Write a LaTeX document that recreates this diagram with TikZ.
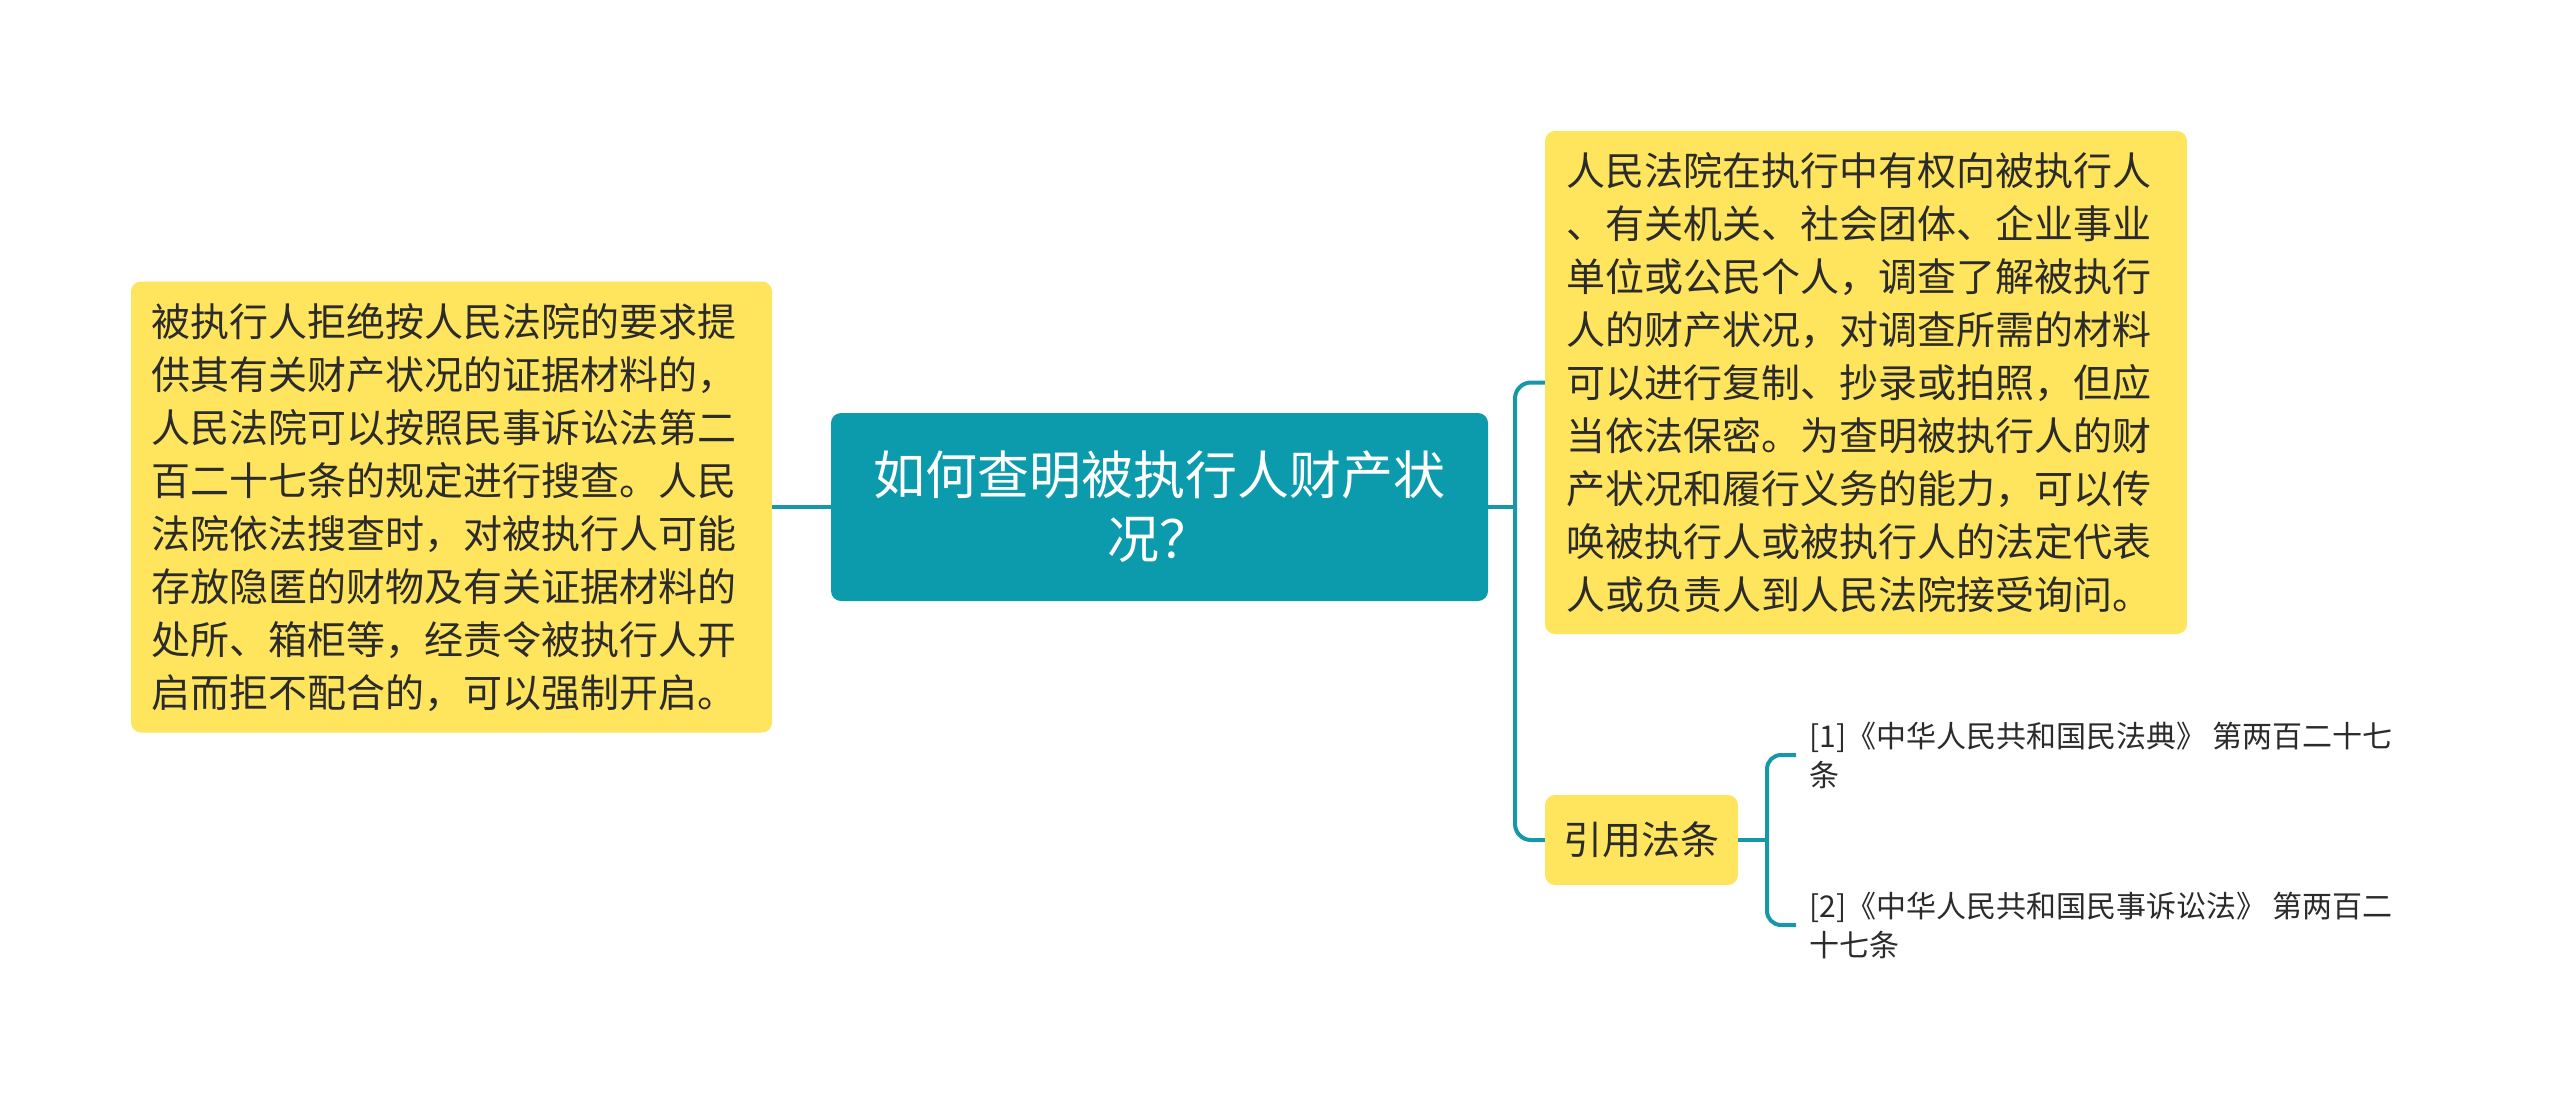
\documentclass[tikz,border=0pt]{standalone}
\usepackage{fontspec}
\setmainfont{Noto Sans CJK SC}
\definecolor{boxyellow}{HTML}{FFE45E}
\definecolor{teal}{HTML}{0C9AAD}
\definecolor{conncol}{HTML}{1798A8}
\definecolor{txt}{HTML}{2B2B2B}
\begin{document}
\begin{tikzpicture}[x=1pt,y=-1pt,
  ybox/.style={fill=boxyellow, rounded corners=10pt, text=txt, align=left, inner sep=0pt, font=\fontsize{39}{53}\selectfont},
  cbox/.style={fill=teal, rounded corners=10pt, text=white, align=center, inner sep=0pt, font=\fontsize{52}{64}\selectfont},
  reftxt/.style={text=txt, align=left, inner xsep=13pt, inner ysep=0pt, font=\fontsize{30}{39}\selectfont},
  conn/.style={draw=conncol, line width=4pt}]
\useasboundingbox (0,0) rectangle (2560,1111);
\fill[white] (0,0) rectangle (2560,1111);

\node[cbox, minimum width=657pt, minimum height=188pt, text width=620pt] (C) at (1159.5,507) {如何查明被执行人财产状\\况？};

\node[ybox, minimum width=641pt, minimum height=451pt, text width=600pt] (L) at (451.5,507) {被执行人拒绝按人民法院的要求提\\供其有关财产状况的证据材料的，\\人民法院可以按照民事诉讼法第二\\百二十七条的规定进行搜查。人民\\法院依法搜查时，对被执行人可能\\存放隐匿的财物及有关证据材料的\\处所、箱柜等，经责令被执行人开\\启而拒不配合的，可以强制开启。};

\node[ybox, minimum width=642pt, minimum height=503pt, text width=600pt] (R) at (1866,382.5) {人民法院在执行中有权向被执行人\\、有关机关、社会团体、企业事业\\单位或公民个人，调查了解被执行\\人的财产状况，对调查所需的材料\\可以进行复制、抄录或拍照，但应\\当依法保密。为查明被执行人的财\\产状况和履行义务的能力，可以传\\唤被执行人或被执行人的法定代表\\人或负责人到人民法院接受询问。};

\node[ybox, align=center, minimum width=193pt, minimum height=90pt] (Y) at (1641.5,840) {引用法条};

\node[reftxt, anchor=west] (r1) at (1796,755) {[1]《中华人民共和国民法典》 第两百二十七\\条};
\node[reftxt, anchor=west] (r2) at (1796,925) {[2]《中华人民共和国民事诉讼法》 第两百二\\十七条};

\coordinate (j1) at (1515,507);
\coordinate (j2) at (1767,840);

\draw[conn] (C.west) -- (L.east);
\draw[conn] (C.east) -- (j1);
\draw[conn, rounded corners=16pt] (j1) |- (R.west);
\draw[conn, rounded corners=16pt] (j1) |- (Y.west);
\draw[conn] (Y.east) -- (j2);
\draw[conn, rounded corners=14pt] (j2) |- (r1.west);
\draw[conn, rounded corners=14pt] (j2) |- (r2.west);
\end{tikzpicture}
\end{document}
